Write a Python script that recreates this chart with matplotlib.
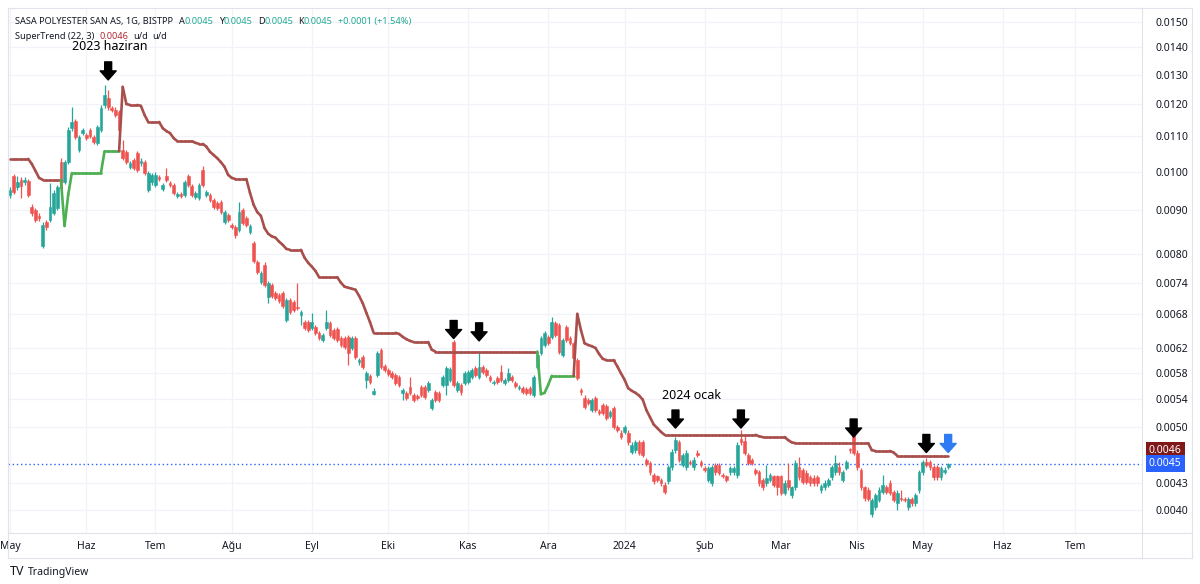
import matplotlib
matplotlib.use("Agg")
import matplotlib.pyplot as plt
from matplotlib.collections import LineCollection
from matplotlib.lines import Line2D
from matplotlib.ticker import FixedLocator, NullLocator, FuncFormatter
import numpy as np
import pandas as pd

plt.rcParams['font.family'] = ['Noto Sans', 'DejaVu Sans']

# Borsa Istanbul closed days inside the range (no candle)
holidays = ['2023-05-19', '2023-06-28', '2023-06-29', '2023-06-30', '2023-08-30',
            '2024-01-01', '2024-04-10', '2024-04-11', '2024-04-12', '2024-04-23', '2024-05-01']

# daily candles, 2 May 2023 -> 13 May 2024
opens = [
    0.00939, 0.00988, 0.00959, 0.00978, 0.00972, 0.00975, 0.00908, 0.00901, 0.00887, 0.00817,
    0.00872, 0.00877, 0.00894, 0.00906, 0.01026, 0.00972, 0.01026, 0.01125, 0.01147, 0.01060,
    0.01110, 0.01104, 0.01119, 0.01098, 0.01081, 0.01119, 0.01198, 0.01221, 0.01188, 0.01182,
    0.01175, 0.01060, 0.01055, 0.01013, 0.01032, 0.01052, 0.01024, 0.01026, 0.00951, 0.00972,
    0.00964, 0.00986, 0.00954, 0.00988, 0.00970, 0.00964, 0.00936, 0.00941, 0.00939, 0.00988,
    0.00962, 0.00934, 0.00931, 0.01004, 0.00939, 0.00939, 0.00926, 0.00918, 0.00921, 0.00872,
    0.00889, 0.00865, 0.00861, 0.00854, 0.00901, 0.00882, 0.00849, 0.00824, 0.00783, 0.00742,
    0.00776, 0.00712, 0.00736, 0.00720, 0.00716, 0.00720, 0.00669, 0.00706, 0.00702, 0.00693,
    0.00678, 0.00665, 0.00665, 0.00655, 0.00656, 0.00646, 0.00634, 0.00655, 0.00663, 0.00651,
    0.00653, 0.00637, 0.00637, 0.00639, 0.00620, 0.00637, 0.00597, 0.00605, 0.00569, 0.00575,
    0.00548, 0.00576, 0.00617, 0.00590, 0.00584, 0.00579, 0.00576, 0.00573, 0.00549, 0.00549,
    0.00558, 0.00546, 0.00544, 0.00558, 0.00558, 0.00553, 0.00527, 0.00550, 0.00549, 0.00561,
    0.00561, 0.00569, 0.00630, 0.00553, 0.00561, 0.00564, 0.00566, 0.00573, 0.00587, 0.00573,
    0.00589, 0.00584, 0.00573, 0.00564, 0.00572, 0.00581, 0.00564, 0.00569, 0.00573, 0.00564,
    0.00556, 0.00556, 0.00555, 0.00556, 0.00546, 0.00589, 0.00612, 0.00625, 0.00639, 0.00639,
    0.00663, 0.00660, 0.00608, 0.00656, 0.00637, 0.00629, 0.00600, 0.00553, 0.00541, 0.00539,
    0.00524, 0.00541, 0.00523, 0.00531, 0.00530, 0.00516, 0.00527, 0.00501, 0.00493, 0.00494,
    0.00493, 0.00468, 0.00470, 0.00480, 0.00480, 0.00458, 0.00454, 0.00439, 0.00438, 0.00434,
    0.00428, 0.00432, 0.00449, 0.00470, 0.00480, 0.00452, 0.00449, 0.00455, 0.00449, 0.00467,
    0.00455, 0.00448, 0.00434, 0.00430, 0.00452, 0.00452, 0.00440, 0.00438, 0.00443, 0.00443,
    0.00439, 0.00485, 0.00482, 0.00464, 0.00458, 0.00445, 0.00443, 0.00434, 0.00430, 0.00434,
    0.00438, 0.00438, 0.00438, 0.00419, 0.00434, 0.00416, 0.00425, 0.00449, 0.00445, 0.00442,
    0.00437, 0.00436, 0.00437, 0.00422, 0.00425, 0.00428, 0.00437, 0.00443, 0.00449, 0.00434,
    0.00448, 0.00471, 0.00493, 0.00467, 0.00445, 0.00425, 0.00422, 0.00395, 0.00403, 0.00411,
    0.00420, 0.00425, 0.00430, 0.00420, 0.00407, 0.00413, 0.00412, 0.00403, 0.00412, 0.00407,
    0.00422, 0.00443, 0.00455, 0.00455, 0.00449, 0.00449, 0.00437, 0.00443, 0.00449,
]
closes = [
    0.00951, 0.00946, 0.00972, 0.00962, 0.00978, 0.00939, 0.00894, 0.00877, 0.00882, 0.00865,
    0.00861, 0.00908, 0.00944, 0.00959, 0.00956, 0.01026, 0.01119, 0.01144, 0.01098, 0.01098,
    0.01119, 0.01095, 0.01101, 0.01084, 0.01128, 0.01188, 0.01231, 0.01191, 0.01182, 0.01166,
    0.01119, 0.01038, 0.01026, 0.01024, 0.01010, 0.01004, 0.01029, 0.00996, 0.00996, 0.00991,
    0.00991, 0.00980, 0.00964, 0.00978, 0.00964, 0.00944, 0.00941, 0.00936, 0.00972, 0.00964,
    0.00939, 0.00944, 0.00964, 0.00964, 0.00946, 0.00926, 0.00908, 0.00906, 0.00896, 0.00896,
    0.00877, 0.00861, 0.00842, 0.00896, 0.00870, 0.00865, 0.00863, 0.00785, 0.00762, 0.00760,
    0.00736, 0.00740, 0.00714, 0.00710, 0.00704, 0.00695, 0.00706, 0.00684, 0.00687, 0.00691,
    0.00684, 0.00655, 0.00651, 0.00665, 0.00646, 0.00637, 0.00642, 0.00665, 0.00642, 0.00637,
    0.00634, 0.00625, 0.00622, 0.00612, 0.00637, 0.00605, 0.00600, 0.00589, 0.00579, 0.00566,
    0.00552, 0.00612, 0.00589, 0.00584, 0.00578, 0.00573, 0.00564, 0.00561, 0.00553, 0.00541,
    0.00549, 0.00539, 0.00541, 0.00546, 0.00543, 0.00564, 0.00539, 0.00539, 0.00539, 0.00573,
    0.00587, 0.00586, 0.00561, 0.00564, 0.00550, 0.00579, 0.00581, 0.00584, 0.00576, 0.00589,
    0.00581, 0.00576, 0.00569, 0.00566, 0.00566, 0.00569, 0.00569, 0.00579, 0.00569, 0.00559,
    0.00558, 0.00550, 0.00549, 0.00549, 0.00573, 0.00608, 0.00637, 0.00646, 0.00629, 0.00665,
    0.00642, 0.00614, 0.00634, 0.00634, 0.00629, 0.00603, 0.00572, 0.00550, 0.00528, 0.00534,
    0.00539, 0.00524, 0.00520, 0.00520, 0.00513, 0.00521, 0.00501, 0.00497, 0.00487, 0.00501,
    0.00480, 0.00477, 0.00480, 0.00467, 0.00464, 0.00453, 0.00443, 0.00432, 0.00434, 0.00430,
    0.00420, 0.00449, 0.00468, 0.00483, 0.00458, 0.00464, 0.00467, 0.00454, 0.00458, 0.00464,
    0.00452, 0.00445, 0.00448, 0.00449, 0.00443, 0.00442, 0.00438, 0.00434, 0.00448, 0.00448,
    0.00477, 0.00480, 0.00467, 0.00454, 0.00454, 0.00442, 0.00430, 0.00425, 0.00436, 0.00440,
    0.00428, 0.00425, 0.00419, 0.00430, 0.00425, 0.00425, 0.00454, 0.00437, 0.00431, 0.00431,
    0.00430, 0.00430, 0.00430, 0.00427, 0.00430, 0.00434, 0.00449, 0.00454, 0.00443, 0.00443,
    0.00455, 0.00470, 0.00467, 0.00449, 0.00425, 0.00413, 0.00412, 0.00411, 0.00416, 0.00422,
    0.00428, 0.00420, 0.00419, 0.00411, 0.00419, 0.00412, 0.00411, 0.00412, 0.00407, 0.00416,
    0.00443, 0.00455, 0.00452, 0.00449, 0.00437, 0.00437, 0.00448, 0.00446, 0.00453,
]
highs = [
    0.00959, 0.00993, 0.00988, 0.00986, 0.00986, 0.00980, 0.00916, 0.00906, 0.00894, 0.00872,
    0.00877, 0.00970, 0.00951, 0.00964, 0.01037, 0.01032, 0.01128, 0.01191, 0.01153, 0.01104,
    0.01125, 0.01110, 0.01125, 0.01104, 0.01134, 0.01198, 0.01265, 0.01249, 0.01195, 0.01191,
    0.01182, 0.01089, 0.01060, 0.01029, 0.01037, 0.01057, 0.01037, 0.01032, 0.01001, 0.00996,
    0.00999, 0.00991, 0.00970, 0.01010, 0.00975, 0.00970, 0.00946, 0.00946, 0.00978, 0.00993,
    0.00967, 0.00949, 0.00970, 0.01015, 0.00951, 0.00944, 0.00931, 0.00923, 0.00926, 0.00901,
    0.00894, 0.00870, 0.00865, 0.00921, 0.00906, 0.00887, 0.00867, 0.00829, 0.00787, 0.00764,
    0.00783, 0.00744, 0.00740, 0.00724, 0.00720, 0.00724, 0.00710, 0.00710, 0.00706, 0.00740,
    0.00687, 0.00669, 0.00669, 0.00682, 0.00660, 0.00649, 0.00646, 0.00687, 0.00667, 0.00655,
    0.00656, 0.00640, 0.00640, 0.00642, 0.00640, 0.00640, 0.00603, 0.00608, 0.00582, 0.00578,
    0.00556, 0.00615, 0.00620, 0.00594, 0.00587, 0.00582, 0.00579, 0.00576, 0.00556, 0.00552,
    0.00573, 0.00549, 0.00547, 0.00561, 0.00561, 0.00567, 0.00541, 0.00553, 0.00552, 0.00576,
    0.00590, 0.00589, 0.00634, 0.00567, 0.00564, 0.00582, 0.00584, 0.00587, 0.00590, 0.00612,
    0.00592, 0.00587, 0.00576, 0.00569, 0.00575, 0.00592, 0.00572, 0.00587, 0.00576, 0.00567,
    0.00561, 0.00559, 0.00558, 0.00559, 0.00576, 0.00612, 0.00640, 0.00649, 0.00642, 0.00674,
    0.00667, 0.00663, 0.00637, 0.00660, 0.00640, 0.00632, 0.00603, 0.00556, 0.00546, 0.00541,
    0.00541, 0.00544, 0.00526, 0.00534, 0.00533, 0.00524, 0.00530, 0.00503, 0.00496, 0.00503,
    0.00496, 0.00480, 0.00483, 0.00483, 0.00483, 0.00460, 0.00456, 0.00442, 0.00440, 0.00436,
    0.00431, 0.00452, 0.00471, 0.00487, 0.00483, 0.00467, 0.00470, 0.00458, 0.00461, 0.00470,
    0.00458, 0.00450, 0.00450, 0.00452, 0.00454, 0.00454, 0.00442, 0.00440, 0.00450, 0.00450,
    0.00480, 0.00496, 0.00488, 0.00467, 0.00460, 0.00448, 0.00445, 0.00436, 0.00451, 0.00442,
    0.00440, 0.00440, 0.00440, 0.00433, 0.00454, 0.00427, 0.00458, 0.00461, 0.00448, 0.00445,
    0.00440, 0.00439, 0.00440, 0.00429, 0.00433, 0.00436, 0.00452, 0.00464, 0.00455, 0.00445,
    0.00458, 0.00473, 0.00501, 0.00470, 0.00448, 0.00427, 0.00425, 0.00413, 0.00419, 0.00425,
    0.00439, 0.00428, 0.00433, 0.00422, 0.00422, 0.00422, 0.00414, 0.00414, 0.00414, 0.00419,
    0.00445, 0.00458, 0.00460, 0.00458, 0.00452, 0.00452, 0.00450, 0.00449, 0.00454,
]
lows = [
    0.00931, 0.00941, 0.00951, 0.00931, 0.00964, 0.00934, 0.00887, 0.00872, 0.00875, 0.00813,
    0.00854, 0.00872, 0.00889, 0.00901, 0.00951, 0.00967, 0.01021, 0.01116, 0.01092, 0.01055,
    0.01104, 0.01089, 0.01095, 0.01078, 0.01075, 0.01113, 0.01188, 0.01182, 0.01175, 0.01160,
    0.01110, 0.01032, 0.01021, 0.01007, 0.01004, 0.00999, 0.01015, 0.00991, 0.00946, 0.00964,
    0.00959, 0.00975, 0.00949, 0.00972, 0.00959, 0.00939, 0.00931, 0.00931, 0.00934, 0.00959,
    0.00934, 0.00929, 0.00926, 0.00959, 0.00934, 0.00921, 0.00903, 0.00901, 0.00891, 0.00867,
    0.00872, 0.00856, 0.00836, 0.00849, 0.00865, 0.00861, 0.00844, 0.00781, 0.00758, 0.00738,
    0.00731, 0.00700, 0.00710, 0.00706, 0.00700, 0.00691, 0.00665, 0.00680, 0.00684, 0.00687,
    0.00660, 0.00651, 0.00648, 0.00651, 0.00642, 0.00634, 0.00630, 0.00651, 0.00639, 0.00634,
    0.00630, 0.00622, 0.00619, 0.00592, 0.00617, 0.00602, 0.00592, 0.00586, 0.00556, 0.00563,
    0.00546, 0.00573, 0.00586, 0.00581, 0.00575, 0.00570, 0.00561, 0.00558, 0.00539, 0.00539,
    0.00546, 0.00536, 0.00539, 0.00543, 0.00540, 0.00550, 0.00524, 0.00536, 0.00536, 0.00558,
    0.00546, 0.00566, 0.00558, 0.00550, 0.00546, 0.00561, 0.00563, 0.00570, 0.00573, 0.00570,
    0.00578, 0.00573, 0.00566, 0.00561, 0.00563, 0.00566, 0.00561, 0.00566, 0.00566, 0.00556,
    0.00553, 0.00547, 0.00546, 0.00546, 0.00543, 0.00586, 0.00609, 0.00622, 0.00625, 0.00635,
    0.00639, 0.00610, 0.00605, 0.00630, 0.00625, 0.00600, 0.00569, 0.00546, 0.00525, 0.00531,
    0.00521, 0.00521, 0.00517, 0.00517, 0.00510, 0.00513, 0.00498, 0.00494, 0.00484, 0.00491,
    0.00477, 0.00465, 0.00467, 0.00464, 0.00461, 0.00450, 0.00440, 0.00429, 0.00431, 0.00427,
    0.00417, 0.00429, 0.00446, 0.00467, 0.00455, 0.00449, 0.00446, 0.00452, 0.00446, 0.00461,
    0.00449, 0.00443, 0.00431, 0.00427, 0.00440, 0.00439, 0.00436, 0.00431, 0.00440, 0.00440,
    0.00436, 0.00477, 0.00464, 0.00451, 0.00451, 0.00439, 0.00427, 0.00422, 0.00427, 0.00431,
    0.00425, 0.00416, 0.00416, 0.00416, 0.00422, 0.00413, 0.00422, 0.00434, 0.00429, 0.00429,
    0.00427, 0.00427, 0.00427, 0.00419, 0.00422, 0.00425, 0.00434, 0.00440, 0.00440, 0.00431,
    0.00445, 0.00467, 0.00464, 0.00446, 0.00422, 0.00410, 0.00409, 0.00392, 0.00400, 0.00408,
    0.00417, 0.00417, 0.00416, 0.00408, 0.00400, 0.00409, 0.00408, 0.00400, 0.00404, 0.00404,
    0.00419, 0.00440, 0.00449, 0.00446, 0.00434, 0.00434, 0.00434, 0.00441, 0.00447,
]

# SuperTrend (22, 3) line, +1 = up (green), -1 = down (red)
st_values = ([0.01035] * 6 + [0.01021, 0.01002, 0.00983] + [0.00978] * 6
             + [0.00863, 0.00939] + [0.00996] * 9 + [0.01057] * 5
             + [0.01258, 0.01201] + [0.01198] * 3 + [0.01195, 0.01166] + [0.01144] * 4
             + [0.01125, 0.01116, 0.01110, 0.01095] + [0.01086] * 5 + [0.01081] + [0.01078] * 2
             + [0.01070, 0.01055, 0.01046, 0.01037, 0.01026, 0.01013, 0.00991, 0.00983] + [0.00980] * 4
             + [0.00944, 0.00914, 0.00896, 0.00887, 0.00858, 0.00845, 0.00839, 0.00836, 0.00827,
                0.00820, 0.00811]
             + [0.00809] * 4 + [0.00792, 0.00781, 0.00773, 0.00764] + [0.00751] * 6
             + [0.00740, 0.00732, 0.00730, 0.00728, 0.00726, 0.00714, 0.00700, 0.00682, 0.00665]
             + [0.00646] * 7
             + [0.00644, 0.00639, 0.00635, 0.00632] + [0.00630] * 5 + [0.00617] + [0.00614] * 29
             + [0.00547, 0.00549, 0.00561] + [0.00575] * 7
             + [0.00680, 0.00651, 0.00628, 0.00625, 0.00623, 0.00620, 0.00610, 0.00602] + [0.00600] * 3
             + [0.00590, 0.00579, 0.00569, 0.00556, 0.00552, 0.00549, 0.00545, 0.00539, 0.00524,
                0.00514, 0.00504, 0.00499, 0.00494]
             + [0.00490] * 26 + [0.00488] + [0.00487] * 7 + [0.00483, 0.00480] + [0.00479] * 21
             + [0.00470] + [0.00469] * 5 + [0.00467] + [0.00463] * 15)
st_trend = [-1] * 15 + [1] * 16 + [-1] * 115 + [1] * 10 + [-1] * 103

month_names = ['Oca', 'Şub', 'Mar', 'Nis', 'May', 'Haz', 'Tem', 'Ağu', 'Eyl', 'Eki', 'Kas', 'Ara']
price_ticks = [0.0150, 0.0140, 0.0130, 0.0120, 0.0110, 0.0100, 0.0090, 0.0080, 0.0074,
               0.0068, 0.0062, 0.0058, 0.0054, 0.0050, 0.0043, 0.0040]

# hand drawn arrows and notes
arrow_idx = [27, 122, 129, 183, 201, 232, 252]
arrow_tip = [0.01282, 0.00636, 0.00632, 0.00499, 0.00499, 0.00487, 0.00467]
blue_arrow_idx = 258
blue_arrow_tip = 0.00467
note_text = ['2023 haziran', '2024 ocak']
note_idx = [27.5, 187.5]
note_price = [0.01402, 0.00545]

GREEN = '#26a69a'
RED = '#ef5350'
ST_UP = '#4caf50'
ST_DN = '#a84f4c'
DARK = '#131722'
FRAME = '#e0e3eb'
GRID = '#f0f3fa'

n = len(closes)
days = pd.bdate_range('2023-05-02', '2024-05-13')
days = days[~days.isin(pd.to_datetime(holidays))][:n]
all_days = days.append(pd.bdate_range(days[-1] + pd.Timedelta(days=1), '2024-08-30'))

W, H = 1200, 584
fig = plt.figure(figsize=(12, 5.84), dpi=100)
ax = fig.add_axes([8 / W, 1 - 533 / H, (1142 - 8) / W, (533 - 8) / H])

x = np.arange(n)
o = np.array(opens)
c = np.array(closes)
h = np.array(highs)
l = np.array(lows)
cols = np.where(c >= o, GREEN, RED)

# candles: wick + body
ax.vlines(x, l, h, colors=cols, linewidth=0.9, zorder=2)
lo = np.minimum(o, c)
hi = np.maximum(o, c)
ax.bar(x, hi - lo, bottom=lo, width=0.74, color=cols, edgecolor=cols, linewidth=0.4, zorder=3)

# supertrend, every segment takes the colour of the bar it ends on
pts = np.column_stack([x, st_values])
segs = np.stack([pts[:-1], pts[1:]], axis=1)
seg_cols = [ST_UP if t > 0 else ST_DN for t in st_trend[1:]]
ax.add_collection(LineCollection(segs, colors=seg_cols, linewidths=1.9,
                                 capstyle='round', joinstyle='round', zorder=4))

# last price line
ax.axhline(closes[-1], color='#2962ff', linestyle=(0, (1, 2)), linewidth=1, zorder=1)

ax.set_yscale('log')

ax.yaxis.tick_right()
ax.yaxis.set_major_locator(FixedLocator(price_ticks))
ax.yaxis.set_minor_locator(NullLocator())
ax.yaxis.set_major_formatter(FuncFormatter(lambda v, pos: f'{v:.4f}'))
ax.tick_params(axis='y', length=0, pad=9.5, labelsize=7.5, labelcolor=DARK)

tick_pos = [0] + [i for i in range(1, len(all_days)) if all_days[i].month != all_days[i - 1].month]
tick_lab = [str(all_days[i].year) if all_days[i].month == 1 else month_names[all_days[i].month - 1]
            for i in tick_pos]
ax.set_xticks(tick_pos)
ax.set_xticklabels(tick_lab)
ax.tick_params(axis='x', length=0, pad=5.5, labelsize=7.5, labelcolor=DARK)
for t in ax.get_xticklabels():
    if t.get_text().isdigit():
        t.set_fontweight('bold')

# limits last, set_xticks would widen them
ax.set_ylim(0.003755, 0.01558)
ax.set_xlim(-0.55, 311.3)

ax.grid(True, color=GRID, linewidth=0.9, zorder=0)
ax.set_axisbelow(True)
for s in ax.spines.values():
    s.set_color(FRAME)
    s.set_linewidth(0.8)

# price scale / time scale frame
def frame_line(x0, y0, x1, y1):
    fig.add_artist(Line2D([x0 / W, x1 / W], [1 - y0 / H, 1 - y1 / H],
                          transform=fig.transFigure, color=FRAME, linewidth=0.8))

frame_line(1142, 8, 1192, 8)
frame_line(1192, 8, 1192, 558)
frame_line(8, 558, 1192, 558)
frame_line(8, 533, 8, 558)
frame_line(1142, 533, 1142, 558)
frame_line(1142, 533, 1192, 533)

# arrows
arrow_style = 'simple,head_length=0.65,head_width=1.15,tail_width=0.5'
for i, p in zip(arrow_idx, arrow_tip):
    ax.annotate('', xy=(i, p), xytext=(0, 13), textcoords='offset points',
                arrowprops=dict(arrowstyle=arrow_style, color='black', shrinkA=0, shrinkB=0,
                                mutation_scale=10), zorder=6)
ax.annotate('', xy=(blue_arrow_idx, blue_arrow_tip), xytext=(0, 13), textcoords='offset points',
            arrowprops=dict(arrowstyle=arrow_style, color='#2f7bf5', shrinkA=0, shrinkB=0,
                            mutation_scale=10), zorder=6)

for s, i, p in zip(note_text, note_idx, note_price):
    ax.text(i, p, s, ha='center', va='center', fontsize=9, color='black', zorder=6)

# price boxes on the scale
ax.annotate(f'{st_values[-1]:.4f}', xy=(1, st_values[-1]), xycoords=('axes fraction', 'data'),
            xytext=(5, 4), textcoords='offset points', ha='left', va='center', fontsize=7.5,
            color='white', annotation_clip=False,
            bbox=dict(boxstyle='square,pad=0.3', fc='#801818', ec='none'))
ax.annotate(f'{closes[-1]:.4f}', xy=(1, closes[-1]), xycoords=('axes fraction', 'data'),
            xytext=(5, 0), textcoords='offset points', ha='left', va='center', fontsize=7.5,
            color='white', annotation_clip=False,
            bbox=dict(boxstyle='square,pad=0.3', fc='#2962ff', ec='none'))

# header lines (legend of the chart)
renderer = fig.canvas.get_renderer()

def write_parts(parts, x_px, y_px, size):
    xx = x_px
    for s, col, gap in parts:
        t = fig.text(xx / W, 1 - y_px / H, s, color=col, fontsize=size, va='baseline', ha='left')
        xx += t.get_window_extent(renderer).width + gap

teal = '#22ab94'
write_parts([('SASA POLYESTER SAN AS, 1G, BISTPP', DARK, 6),
             ('A', DARK, 0), ('0.0045', teal, 5), ('Y', DARK, 0), ('0.0045', teal, 5),
             ('D', DARK, 0), ('0.0045', teal, 5), ('K', DARK, 0), ('0.0045', teal, 5),
             ('+0.0001 (+1.54%)', teal, 0)], 15, 24, 6.6)
write_parts([('SuperTrend (22, 3)', DARK, 5), (f'{st_values[-1]:.4f}', '#b22833', 5),
             ('u/d', DARK, 4), ('u/d', DARK, 0)], 15, 39, 6.6)

# TradingView mark
fig.text(10 / W, 1 - 575 / H, 'TV', fontsize=9, fontweight='heavy', color=DARK, va='baseline')
fig.text(28 / W, 1 - 575 / H, 'TradingView', fontsize=7.5, color=DARK, va='baseline')

fig.savefig('out.png', dpi=100, facecolor='white')
